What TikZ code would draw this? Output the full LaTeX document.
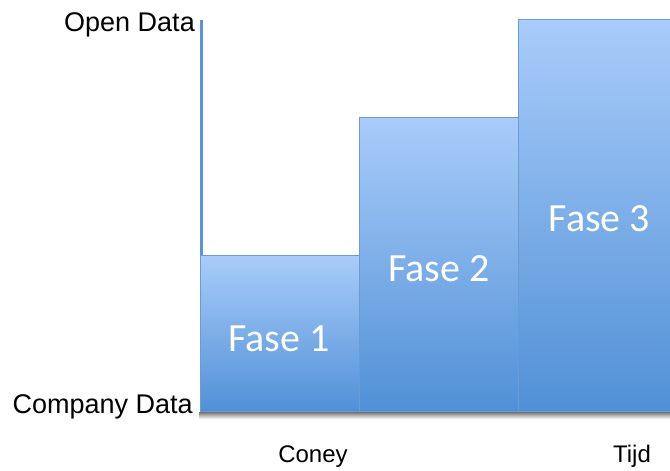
\documentclass[tikz,border=0pt]{standalone}
\usepackage{fontspec}
\setmainfont{Liberation Sans}
\newfontfamily\calibri{Carlito}
\definecolor{bartop}{HTML}{A9CCFA}
\definecolor{barbot}{HTML}{5090D6}
\definecolor{baredge}{HTML}{6B9BD1}
\definecolor{axisblue}{HTML}{5C93D3}
\begin{document}
\begin{tikzpicture}[x=1bp,y=-1bp,
  phasebar/.style={draw=baredge,line width=0.8bp,top color=bartop,bottom color=barbot,
    rectangle,anchor=south west,inner sep=0pt},
  phaselabel/.style={text=white,inner sep=0pt,anchor=base,
    font=\calibri\fontsize{40bp}{40bp}\selectfont},
  axislabel/.style={font=\fontsize{27bp}{27bp}\selectfont,inner sep=0pt,anchor=base east},
  timelabel/.style={font=\fontsize{24bp}{24bp}\selectfont,inner sep=0pt,anchor=base},
  axisline/.style={draw=axisblue,line width=3.2bp}]
\useasboundingbox (0,0) rectangle (670,471);
% vertical axis
\coordinate (atop) at (201.5,20);
\coordinate (abot) at (201.5,412);
\draw[axisline] (atop) -- (abot);
% soft shadow under the bars
\shade[top color=black!55,bottom color=white] (199,412) rectangle (680,419);
% phases
\node[phasebar,minimum width=159bp,minimum height=156bp] (f1) at (200,412) {};
\node[phasebar,minimum width=159bp,minimum height=294bp] (f2) at (359,412) {};
\node[phasebar,minimum width=164bp,minimum height=392bp] (f3) at (518,412) {};
\node[phaselabel] (l1) at (279,351) {Fase 1};
\node[phaselabel] (l2) at (439,282) {Fase 2};
\node[phaselabel] (l3) at (599.5,232) {Fase 3};
% axis labels
\node[axislabel] (open) at (195,32) {Open Data};
\node[axislabel] (company) at (193,413) {Company Data};
\node[timelabel] (coney) at (313,462) {Coney};
\node[timelabel] (tijd) at (632,462) {Tijd};
\end{tikzpicture}
\end{document}
